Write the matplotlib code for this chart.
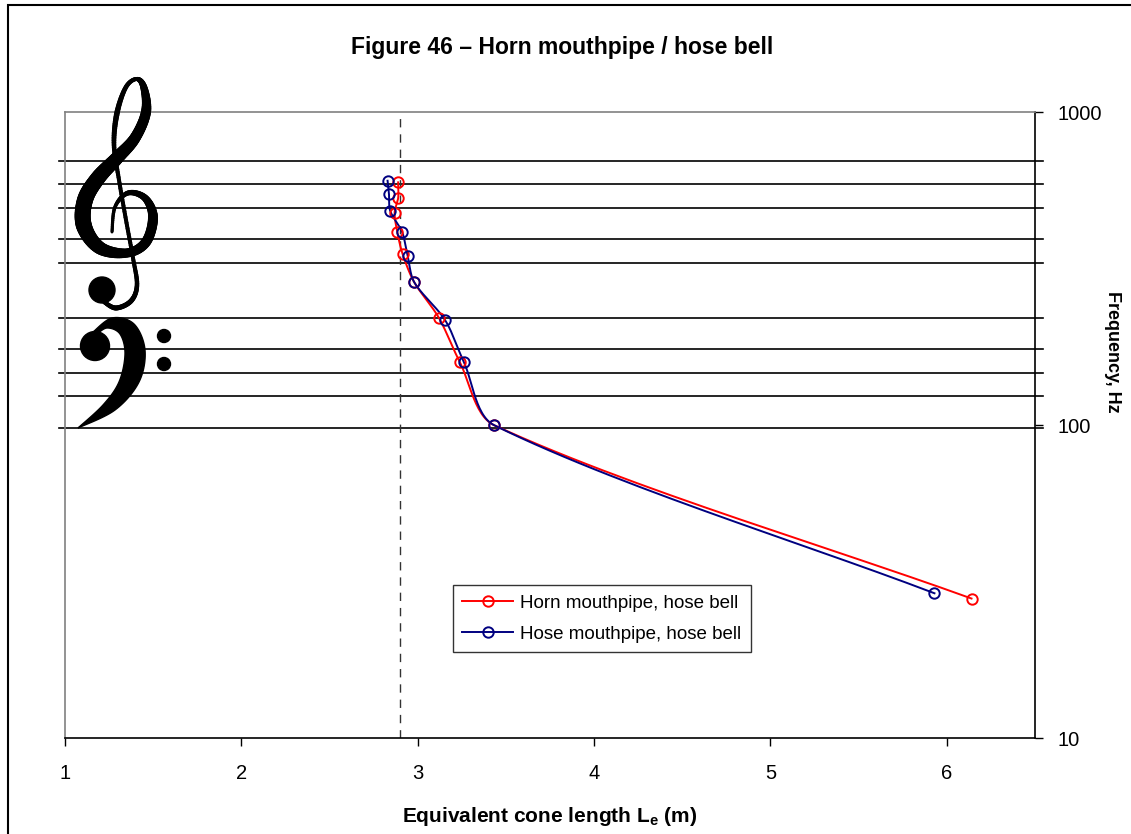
import numpy as np
import matplotlib
matplotlib.use("Agg")
import matplotlib.pyplot as plt
from matplotlib.patches import Rectangle, Polygon, Circle
from matplotlib.collections import LineCollection
from matplotlib.transforms import Affine2D

plt.rcParams['font.family'] = ['Liberation Sans', 'DejaVu Sans']

# Equivalent cone length (m) and resonance frequency (Hz)
horn_len = [6.14, 3.434, 3.239, 3.120, 2.980, 2.914, 2.884, 2.869, 2.889, 2.889]
horn_freq = [27.9, 99.8, 158.6, 220.0, 286.0, 352.0, 414.0, 477.0, 530.0, 596.0]
hose_len = [5.93, 3.434, 3.262, 3.156, 2.980, 2.943, 2.912, 2.844, 2.837, 2.829]
hose_freq = [29.0, 99.8, 158.6, 216.0, 286.0, 347.0, 413.0, 483.0, 546.0, 603.0]

# Staff lines: bass G2 B2 D3 F3 A3, treble E4 G4 B4 D5 F5
staff_freqs = [98.00, 123.47, 146.83, 174.61, 220.00,
               329.63, 392.00, 493.88, 587.33, 698.46]
ref_length = 2.9

x_ticks = [1, 2, 3, 4, 5, 6]
y_ticks = [10, 100, 1000]

W, H = 1131, 834
fig = plt.figure(figsize=(W / 100, H / 100), dpi=100)
ax = fig.add_axes([65 / W, 1 - 738 / H, (1035 - 65) / W, (738 - 112) / H])
ax.set_xlim(1, 6.5)
ax.set_yscale('log')
ax.set_ylim(10, 1000)

# pixel space (origin top-left) used for the clef drawings
px = Affine2D().scale(1 / W, -1 / H).translate(0, 1) + fig.transFigure


def catmull(points, n=14):
    p = np.asarray(points, float)
    p = np.vstack([p[0], p, p[-1]])
    out = []
    for i in range(1, len(p) - 2):
        p0, p1, p2, p3 = p[i - 1], p[i], p[i + 1], p[i + 2]
        for t in np.linspace(0, 1, n, endpoint=False):
            out.append(0.5 * ((2 * p1) + (-p0 + p2) * t
                              + (2 * p0 - 5 * p1 + 4 * p2 - p3) * t ** 2
                              + (-p0 + 3 * p1 - 3 * p2 + p3) * t ** 3))
    out.append(p[-2])
    return np.array(out)


def smooth_curve(xs, ys, n=30, k=0.3):
    pts = ax.transData.transform(np.column_stack([xs, ys]))
    out = [pts[0]]
    m = len(pts)
    for i in range(m - 1):
        p0, p1 = pts[i], pts[i + 1]
        d = np.linalg.norm(p1 - p0)
        prev = pts[i - 1] if i > 0 else p0
        nxt = pts[i + 2] if i + 2 < m else p1
        t0 = p1 - prev
        t0 = t0 / np.linalg.norm(t0)
        t1 = nxt - p0
        t1 = t1 / np.linalg.norm(t1)
        c0 = p0 + t0 * d * k
        c1 = p1 - t1 * d * k
        t = np.linspace(0, 1, n)[1:, None]
        seg = ((1 - t) ** 3) * p0 + 3 * ((1 - t) ** 2) * t * c0 \
            + 3 * (1 - t) * t ** 2 * c1 + t ** 3 * p1
        out.extend(seg)
    out = ax.transData.inverted().transform(np.array(out))
    return out[:, 0], out[:, 1]


# staff lines
for f in staff_freqs:
    ax.plot([0.966, 6.545], [f, f], color='black', lw=1.2,
            clip_on=False, zorder=2)

# reference length
ax.axvline(ref_length, color='#333333', lw=1.0, ls=(0, (6, 5)), zorder=2)

red = '#ff0000'
navy = '#000080'
ms = 7.5
sx, sy = smooth_curve(horn_len, horn_freq)
ax.plot(sx, sy, color=red, lw=1.4, zorder=3)
ax.plot(horn_len, horn_freq, ls='none', marker='o', ms=ms, mfc='none',
        mec=red, mew=1.4, zorder=4)
sx, sy = smooth_curve(hose_len, hose_freq)
ax.plot(sx, sy, color=navy, lw=1.4, zorder=3)
ax.plot(hose_len, hose_freq, ls='none', marker='o', ms=ms, mfc='none',
        mec=navy, mew=1.4, zorder=4)

# legend
ax.plot([], [], color=red, lw=1.4, marker='o', ms=ms, mfc='none', mew=1.4,
        label='Horn mouthpipe, hose bell')
ax.plot([], [], color=navy, lw=1.4, marker='o', ms=ms, mfc='none', mew=1.4,
        label='Hose mouthpipe, hose bell')
leg = ax.legend(loc='upper left',
                bbox_to_anchor=((453 - 65) / 970, 1 - (585 - 112) / 626),
                borderaxespad=0, frameon=True, fancybox=False, fontsize=13.5,
                handlelength=2.7, borderpad=0.5, labelspacing=0.75,
                handletextpad=0.4)
leg.get_frame().set_edgecolor('black')
leg.get_frame().set_linewidth(1.0)

# treble clef: stroked centre line with varying width
treble_pts = [(112, 232), (115, 207), (128, 193), (145, 198), (153, 217),
              (146, 242), (127, 253), (100, 248), (84, 226), (85, 200),
              (98, 178), (117, 158), (135, 138), (146, 112), (144, 88),
              (137, 79), (126, 87), (117, 113), (114, 145), (119, 180),
              (126, 220), (133, 258), (137, 285), (131, 301), (116, 308),
              (104, 302)]
treble_w = [3, 3.5, 5, 7, 10, 10, 9, 13, 16, 16, 15, 13, 11, 10, 7, 4,
            4.5, 5.5, 4.5, 4, 4, 4, 4.5, 5, 5, 4]
dense = catmull(treble_pts)
wts = np.interp(np.linspace(0, len(treble_pts) - 1, len(dense)),
                np.arange(len(treble_pts)), treble_w)
segs = [dense[i:i + 2] for i in range(len(dense) - 1)]
lc = LineCollection(segs, linewidths=wts[:-1] * 0.72, colors='black',
                    capstyle='round', joinstyle='round', transform=px)
fig.add_artist(lc)
fig.add_artist(Circle((102, 290), 13, transform=px, color='black'))

# bass clef: filled hook, ball and two dots
outer = catmull([(92, 333), (112, 318), (134, 324), (145, 350), (139, 382),
                 (115, 410), (78, 428)])
inner = catmull([(78, 428), (103, 405), (119, 382), (125, 354), (120, 334),
                 (107, 328), (96, 335)])
fig.add_artist(Polygon(np.vstack([outer, inner]), closed=True, transform=px,
                       color='black'))
fig.add_artist(Circle((95, 346), 14.5, transform=px, color='black'))
fig.add_artist(Circle((164, 336), 6.5, transform=px, color='black'))
fig.add_artist(Circle((164, 364), 6.5, transform=px, color='black'))

# axes styling
ax.yaxis.tick_right()
ax.set_xticks(x_ticks)
ax.set_xticklabels([str(v) for v in x_ticks])
ax.set_yticks(y_ticks)
ax.set_yticklabels([str(v) for v in y_ticks])
ax.yaxis.set_minor_locator(matplotlib.ticker.NullLocator())
ax.tick_params(axis='x', direction='out', length=6, width=1, pad=13, labelsize=14.5)
ax.tick_params(axis='y', direction='out', length=6, width=1, pad=10, labelsize=14.5)
for s in ['left', 'top']:
    ax.spines[s].set_color('#808080')
    ax.spines[s].set_linewidth(1.2)
for s in ['bottom', 'right']:
    ax.spines[s].set_color('black')
    ax.spines[s].set_linewidth(1.2)

fig.text(562 / W, 1 - 54 / H, 'Figure 46 \u2013 Horn mouthpipe / hose bell',
         ha='center', va='baseline', fontsize=16.5, fontweight='bold')
fig.text(550 / W, 1 - 817 / H, 'Equivalent cone length L$_\\mathregular{e}$ (m)',
         ha='center', va='center', fontsize=15, fontweight='bold')
fig.text(1112 / W, 1 - 352 / H, 'Frequency, Hz', rotation=-90,
         ha='center', va='center', fontsize=13, fontweight='bold')

fig.add_artist(Rectangle((8 / W, -0.05), 1.1, 1 - 5 / H + 0.05,
                         transform=fig.transFigure, fill=False,
                         edgecolor='black', lw=1.5))

fig.savefig('out.png', dpi=100)
